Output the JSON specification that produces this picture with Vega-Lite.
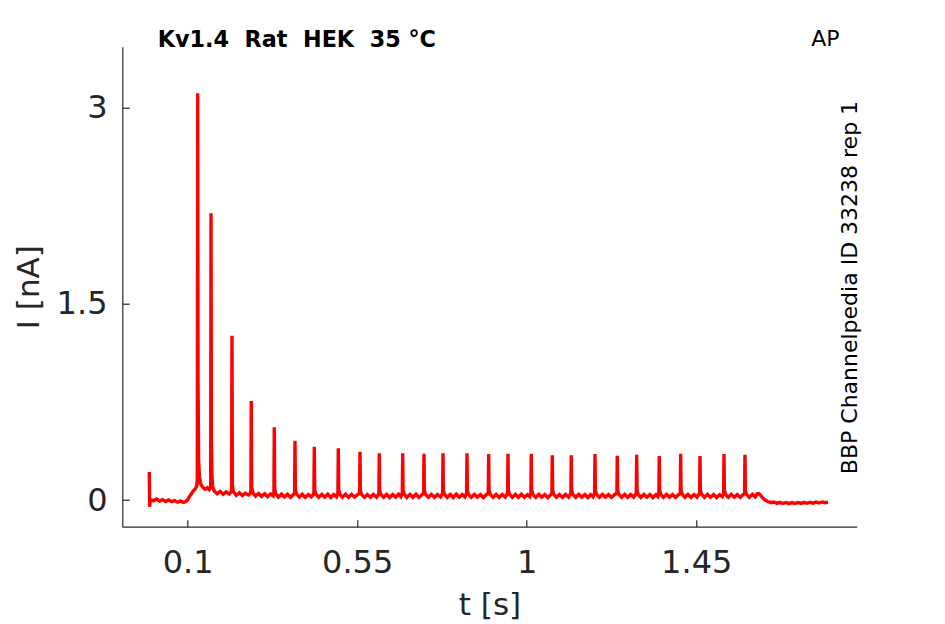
{
  "$schema": "https://vega.github.io/schema/vega-lite/v6.json",
  "autosize": {"type": "none"},
  "padding": {"left": 122.3, "top": 46.7, "right": 88.3, "bottom": 97.3},
  "width": 734.4,
  "height": 480,
  "background": "white",
  "config": {
    "view": {"stroke": null},
    "font": "DejaVu Sans",
    "axis": {
      "grid": false,
      "domainColor": "#262626",
      "domainWidth": 1.2,
      "tickColor": "#262626",
      "tickWidth": 1.2,
      "tickSize": -7,
      "labelColor": "#262626",
      "titleColor": "#262626",
      "labelFont": "DejaVu Sans",
      "titleFont": "DejaVu Sans",
      "labelFontSize": 32,
      "titleFontSize": 31,
      "titleFontWeight": "normal",
      "labelFlush": false,
      "labelOverlap": false
    }
  },
  "datasets": {
    "trace": [
      {"t": -0.002, "i": 0.214}, {"t": -0.001, "i": -0.052}, {"t": 0.001, "i": 0.004},
      {"t": 0.009, "i": -0.006}, {"t": 0.017, "i": 0.007}, {"t": 0.025, "i": -0.008},
      {"t": 0.033, "i": 0.003}, {"t": 0.041, "i": -0.011}, {"t": 0.049, "i": 0.001},
      {"t": 0.057, "i": -0.013}, {"t": 0.065, "i": -0.004}, {"t": 0.073, "i": -0.017},
      {"t": 0.081, "i": -0.007}, {"t": 0.089, "i": -0.019}, {"t": 0.095, "i": -0.012},
      {"t": 0.100, "i": 0.002}, {"t": 0.105, "i": 0.028}, {"t": 0.110, "i": 0.048},
      {"t": 0.115, "i": 0.070}, {"t": 0.120, "i": 0.085}, {"t": 0.1245, "i": 0.110},
      {"t": 0.1255, "i": 0.16}, {"t": 0.1265, "i": 3.112}, {"t": 0.1275, "i": 0.9},
      {"t": 0.1290, "i": 0.30}, {"t": 0.1315, "i": 0.17}, {"t": 0.1350, "i": 0.12},
      {"t": 0.1400, "i": 0.098}, {"t": 0.1460, "i": 0.082}, {"t": 0.1520, "i": 0.094},
      {"t": 0.1570, "i": 0.080}, {"t": 0.1600, "i": 0.092}, {"t": 0.1611, "i": 0.11},
      {"t": 0.1619, "i": 2.194}, {"t": 0.1630, "i": 0.45}, {"t": 0.1645, "i": 0.18},
      {"t": 0.1665, "i": 0.10}, {"t": 0.1700, "i": 0.07}, {"t": 0.1780, "i": 0.048},
      {"t": 0.1860, "i": 0.066}, {"t": 0.1940, "i": 0.044}, {"t": 0.2020, "i": 0.062},
      {"t": 0.2100, "i": 0.046}, {"t": 0.2150, "i": 0.060}, {"t": 0.2166, "i": 0.075},
      {"t": 0.2176, "i": 1.257}, {"t": 0.2186, "i": 0.12}, {"t": 0.2210, "i": 0.065},
      {"t": 0.2290, "i": 0.036}, {"t": 0.2370, "i": 0.056}, {"t": 0.2450, "i": 0.034},
      {"t": 0.2530, "i": 0.052}, {"t": 0.2610, "i": 0.038}, {"t": 0.2660, "i": 0.050},
      {"t": 0.2678, "i": 0.065}, {"t": 0.2688, "i": 0.758}, {"t": 0.2698, "i": 0.10},
      {"t": 0.2725, "i": 0.058}, {"t": 0.2800, "i": 0.030}, {"t": 0.2880, "i": 0.050},
      {"t": 0.2960, "i": 0.028}, {"t": 0.3040, "i": 0.048}, {"t": 0.3120, "i": 0.026},
      {"t": 0.3200, "i": 0.046}, {"t": 0.3270, "i": 0.032}, {"t": 0.3289, "i": 0.060},
      {"t": 0.3299, "i": 0.556}, {"t": 0.3309, "i": 0.09}, {"t": 0.3335, "i": 0.050},
      {"t": 0.3410, "i": 0.022}, {"t": 0.3490, "i": 0.045}, {"t": 0.3570, "i": 0.024},
      {"t": 0.3650, "i": 0.044}, {"t": 0.3730, "i": 0.021}, {"t": 0.3800, "i": 0.040},
      {"t": 0.3838, "i": 0.055}, {"t": 0.3848, "i": 0.454}, {"t": 0.3858, "i": 0.085},
      {"t": 0.3885, "i": 0.048}, {"t": 0.3960, "i": 0.022}, {"t": 0.4040, "i": 0.044},
      {"t": 0.4120, "i": 0.020}, {"t": 0.4200, "i": 0.042}, {"t": 0.4280, "i": 0.024},
      {"t": 0.4330, "i": 0.040}, {"t": 0.4351, "i": 0.055}, {"t": 0.4361, "i": 0.408},
      {"t": 0.4371, "i": 0.08}, {"t": 0.4400, "i": 0.046}, {"t": 0.4480, "i": 0.020},
      {"t": 0.4560, "i": 0.043}, {"t": 0.4640, "i": 0.022}, {"t": 0.4720, "i": 0.045},
      {"t": 0.4800, "i": 0.019}, {"t": 0.4880, "i": 0.042}, {"t": 0.4950, "i": 0.024},
      {"t": 0.4988, "i": 0.052}, {"t": 0.4998, "i": 0.396}, {"t": 0.5008, "i": 0.08},
      {"t": 0.5035, "i": 0.046}, {"t": 0.5110, "i": 0.021}, {"t": 0.5190, "i": 0.044},
      {"t": 0.5270, "i": 0.020}, {"t": 0.5350, "i": 0.043}, {"t": 0.5430, "i": 0.023},
      {"t": 0.5510, "i": 0.041}, {"t": 0.5564, "i": 0.052}, {"t": 0.5574, "i": 0.370},
      {"t": 0.5584, "i": 0.08}, {"t": 0.5610, "i": 0.045}, {"t": 0.5690, "i": 0.020},
      {"t": 0.5770, "i": 0.042}, {"t": 0.5850, "i": 0.021}, {"t": 0.5930, "i": 0.044},
      {"t": 0.6010, "i": 0.022}, {"t": 0.6060, "i": 0.040}, {"t": 0.6076, "i": 0.052},
      {"t": 0.6086, "i": 0.357}, {"t": 0.6096, "i": 0.078}, {"t": 0.6125, "i": 0.044},
      {"t": 0.6200, "i": 0.021}, {"t": 0.6280, "i": 0.043}, {"t": 0.6360, "i": 0.019},
      {"t": 0.6440, "i": 0.042}, {"t": 0.6520, "i": 0.022}, {"t": 0.6600, "i": 0.044},
      {"t": 0.6660, "i": 0.026}, {"t": 0.6697, "i": 0.052}, {"t": 0.6707, "i": 0.357},
      {"t": 0.6717, "i": 0.078}, {"t": 0.6745, "i": 0.045}, {"t": 0.6820, "i": 0.020},
      {"t": 0.6900, "i": 0.043}, {"t": 0.6980, "i": 0.021}, {"t": 0.7060, "i": 0.044},
      {"t": 0.7140, "i": 0.020}, {"t": 0.7220, "i": 0.041}, {"t": 0.7263, "i": 0.052},
      {"t": 0.7273, "i": 0.354}, {"t": 0.7283, "i": 0.078}, {"t": 0.7310, "i": 0.044},
      {"t": 0.7390, "i": 0.021}, {"t": 0.7470, "i": 0.043}, {"t": 0.7550, "i": 0.020},
      {"t": 0.7630, "i": 0.042}, {"t": 0.7710, "i": 0.024}, {"t": 0.7767, "i": 0.052},
      {"t": 0.7777, "i": 0.357}, {"t": 0.7787, "i": 0.078}, {"t": 0.7815, "i": 0.045},
      {"t": 0.7890, "i": 0.020}, {"t": 0.7970, "i": 0.043}, {"t": 0.8050, "i": 0.019},
      {"t": 0.8130, "i": 0.044}, {"t": 0.8210, "i": 0.021}, {"t": 0.8290, "i": 0.042},
      {"t": 0.8360, "i": 0.024}, {"t": 0.8404, "i": 0.052}, {"t": 0.8414, "i": 0.357},
      {"t": 0.8424, "i": 0.078}, {"t": 0.8450, "i": 0.044}, {"t": 0.8530, "i": 0.020},
      {"t": 0.8610, "i": 0.043}, {"t": 0.8690, "i": 0.021}, {"t": 0.8770, "i": 0.042},
      {"t": 0.8850, "i": 0.019}, {"t": 0.8930, "i": 0.041}, {"t": 0.8980, "i": 0.052},
      {"t": 0.8990, "i": 0.352}, {"t": 0.9000, "i": 0.078}, {"t": 0.9030, "i": 0.044},
      {"t": 0.9110, "i": 0.021}, {"t": 0.9190, "i": 0.043}, {"t": 0.9270, "i": 0.020},
      {"t": 0.9350, "i": 0.042}, {"t": 0.9430, "i": 0.022}, {"t": 0.9493, "i": 0.052},
      {"t": 0.9503, "i": 0.354}, {"t": 0.9513, "i": 0.078}, {"t": 0.9540, "i": 0.045},
      {"t": 0.9620, "i": 0.020}, {"t": 0.9700, "i": 0.043}, {"t": 0.9780, "i": 0.021},
      {"t": 0.9860, "i": 0.044}, {"t": 0.9940, "i": 0.020}, {"t": 1.0020, "i": 0.042},
      {"t": 1.0080, "i": 0.025}, {"t": 1.0111, "i": 0.052}, {"t": 1.0121, "i": 0.354},
      {"t": 1.0131, "i": 0.078}, {"t": 1.0160, "i": 0.044}, {"t": 1.0240, "i": 0.020},
      {"t": 1.0320, "i": 0.043}, {"t": 1.0400, "i": 0.021}, {"t": 1.0480, "i": 0.042},
      {"t": 1.0560, "i": 0.019}, {"t": 1.0640, "i": 0.041}, {"t": 1.0669, "i": 0.052},
      {"t": 1.0679, "i": 0.342}, {"t": 1.0689, "i": 0.076}, {"t": 1.0715, "i": 0.044},
      {"t": 1.0790, "i": 0.021}, {"t": 1.0870, "i": 0.042}, {"t": 1.0950, "i": 0.020},
      {"t": 1.1030, "i": 0.043}, {"t": 1.1110, "i": 0.022}, {"t": 1.1173, "i": 0.052},
      {"t": 1.1183, "i": 0.342}, {"t": 1.1193, "i": 0.076}, {"t": 1.1220, "i": 0.045},
      {"t": 1.1300, "i": 0.020}, {"t": 1.1380, "i": 0.043}, {"t": 1.1460, "i": 0.021},
      {"t": 1.1540, "i": 0.042}, {"t": 1.1620, "i": 0.019}, {"t": 1.1700, "i": 0.041},
      {"t": 1.1760, "i": 0.024}, {"t": 1.1802, "i": 0.052}, {"t": 1.1812, "i": 0.352},
      {"t": 1.1822, "i": 0.078}, {"t": 1.1850, "i": 0.044}, {"t": 1.1930, "i": 0.020},
      {"t": 1.2010, "i": 0.043}, {"t": 1.2090, "i": 0.021}, {"t": 1.2170, "i": 0.042},
      {"t": 1.2250, "i": 0.020}, {"t": 1.2330, "i": 0.041}, {"t": 1.2394, "i": 0.052},
      {"t": 1.2404, "i": 0.339}, {"t": 1.2414, "i": 0.076}, {"t": 1.2440, "i": 0.044},
      {"t": 1.2520, "i": 0.021}, {"t": 1.2600, "i": 0.043}, {"t": 1.2680, "i": 0.020},
      {"t": 1.2760, "i": 0.042}, {"t": 1.2840, "i": 0.022}, {"t": 1.2909, "i": 0.052},
      {"t": 1.2919, "i": 0.347}, {"t": 1.2929, "i": 0.076}, {"t": 1.2955, "i": 0.045},
      {"t": 1.3030, "i": 0.020}, {"t": 1.3110, "i": 0.043}, {"t": 1.3190, "i": 0.021},
      {"t": 1.3270, "i": 0.042}, {"t": 1.3350, "i": 0.019}, {"t": 1.3430, "i": 0.041},
      {"t": 1.3480, "i": 0.026}, {"t": 1.3509, "i": 0.052}, {"t": 1.3519, "i": 0.337},
      {"t": 1.3529, "i": 0.076}, {"t": 1.3555, "i": 0.044}, {"t": 1.3630, "i": 0.020},
      {"t": 1.3710, "i": 0.043}, {"t": 1.3790, "i": 0.021}, {"t": 1.3870, "i": 0.042},
      {"t": 1.3950, "i": 0.020}, {"t": 1.4030, "i": 0.041}, {"t": 1.4077, "i": 0.052},
      {"t": 1.4087, "i": 0.354}, {"t": 1.4097, "i": 0.078}, {"t": 1.4125, "i": 0.044},
      {"t": 1.4200, "i": 0.021}, {"t": 1.4280, "i": 0.043}, {"t": 1.4360, "i": 0.020},
      {"t": 1.4440, "i": 0.042}, {"t": 1.4520, "i": 0.022}, {"t": 1.4590, "i": 0.052},
      {"t": 1.4600, "i": 0.337}, {"t": 1.4610, "i": 0.076}, {"t": 1.4640, "i": 0.045},
      {"t": 1.4720, "i": 0.020}, {"t": 1.4800, "i": 0.043}, {"t": 1.4880, "i": 0.021},
      {"t": 1.4960, "i": 0.042}, {"t": 1.5040, "i": 0.019}, {"t": 1.5120, "i": 0.041},
      {"t": 1.5190, "i": 0.026}, {"t": 1.5227, "i": 0.052}, {"t": 1.5237, "i": 0.352},
      {"t": 1.5247, "i": 0.078}, {"t": 1.5275, "i": 0.044}, {"t": 1.5350, "i": 0.020},
      {"t": 1.5430, "i": 0.043}, {"t": 1.5510, "i": 0.021}, {"t": 1.5590, "i": 0.042},
      {"t": 1.5670, "i": 0.020}, {"t": 1.5740, "i": 0.040}, {"t": 1.5784, "i": 0.052},
      {"t": 1.5794, "i": 0.347}, {"t": 1.5804, "i": 0.076}, {"t": 1.5830, "i": 0.045},
      {"t": 1.5910, "i": 0.021}, {"t": 1.5990, "i": 0.043}, {"t": 1.6070, "i": 0.024},
      {"t": 1.6120, "i": 0.048}, {"t": 1.6160, "i": 0.050}, {"t": 1.6210, "i": 0.035},
      {"t": 1.6270, "i": 0.015}, {"t": 1.6330, "i": 0.000}, {"t": 1.6400, "i": -0.012},
      {"t": 1.6480, "i": -0.020}, {"t": 1.6560, "i": -0.015}, {"t": 1.6640, "i": -0.026},
      {"t": 1.6720, "i": -0.018}, {"t": 1.6800, "i": -0.027}, {"t": 1.6880, "i": -0.019},
      {"t": 1.6960, "i": -0.028}, {"t": 1.7040, "i": -0.020}, {"t": 1.7120, "i": -0.027},
      {"t": 1.7200, "i": -0.019}, {"t": 1.7280, "i": -0.026}, {"t": 1.7360, "i": -0.018},
      {"t": 1.7440, "i": -0.025}, {"t": 1.7520, "i": -0.017}, {"t": 1.7600, "i": -0.024},
      {"t": 1.7680, "i": -0.016}, {"t": 1.7760, "i": -0.023}, {"t": 1.7840, "i": -0.015},
      {"t": 1.7920, "i": -0.021}, {"t": 1.8000, "i": -0.016}
    ],
    "one": [{}]
  },
  "layer": [
    {
      "data": {"name": "trace"},
      "mark": {"type": "line", "color": "#ff0000", "strokeWidth": 3.4, "strokeJoin": "miter", "strokeMiterLimit": 4, "clip": true},
      "encoding": {
        "x": {
          "field": "t",
          "type": "quantitative",
          "scale": {"domain": [-0.0736, 1.876], "nice": false, "zero": false},
          "axis": {
            "title": "t [s]",
            "values": [0.1, 0.55, 1, 1.45],
            "labelExpr": "'' + datum.value",
            "labelBaseline": "alphabetic",
            "labelPadding": 52.6,
            "titleBaseline": "alphabetic",
            "titleY": 87.5
          }
        },
        "y": {
          "field": "i",
          "type": "quantitative",
          "scale": {"domain": [-0.2043, 3.469], "nice": false, "zero": false},
          "axis": {
            "title": "I [nA]",
            "values": [0, 1.5, 3],
            "labelExpr": "'' + datum.value",
            "labelPadding": 22.3,
            "titleAngle": 270,
            "titleAlign": "center",
            "titleBaseline": "alphabetic",
            "titleX": -84,
            "titleY": 240
          }
        }
      }
    },
    {
      "data": {"name": "one"},
      "mark": {"type": "text", "text": "Kv1.4\u00a0\u00a0Rat\u00a0\u00a0HEK\u00a0\u00a035\u00a0°C", "font": "DejaVu Sans", "fontWeight": "bold", "fontSize": 22.3, "color": "#000000", "align": "left", "baseline": "alphabetic"},
      "encoding": {"x": {"datum": 0.0205}, "y": {"datum": 3.469}}
    },
    {
      "data": {"name": "one"},
      "mark": {"type": "text", "text": "AP", "font": "DejaVu Sans", "fontSize": 22, "color": "#000000", "align": "right", "baseline": "alphabetic"},
      "encoding": {"x": {"datum": 1.8303}, "y": {"datum": 3.474}}
    },
    {
      "data": {"name": "one"},
      "mark": {"type": "text", "text": "BBP Channelpedia ID 33238 rep 1", "font": "DejaVu Sans", "fontSize": 22, "color": "#000000", "align": "center", "baseline": "alphabetic", "angle": 270},
      "encoding": {"x": {"datum": 1.876}, "y": {"datum": 1.626}}
    }
  ]
}
